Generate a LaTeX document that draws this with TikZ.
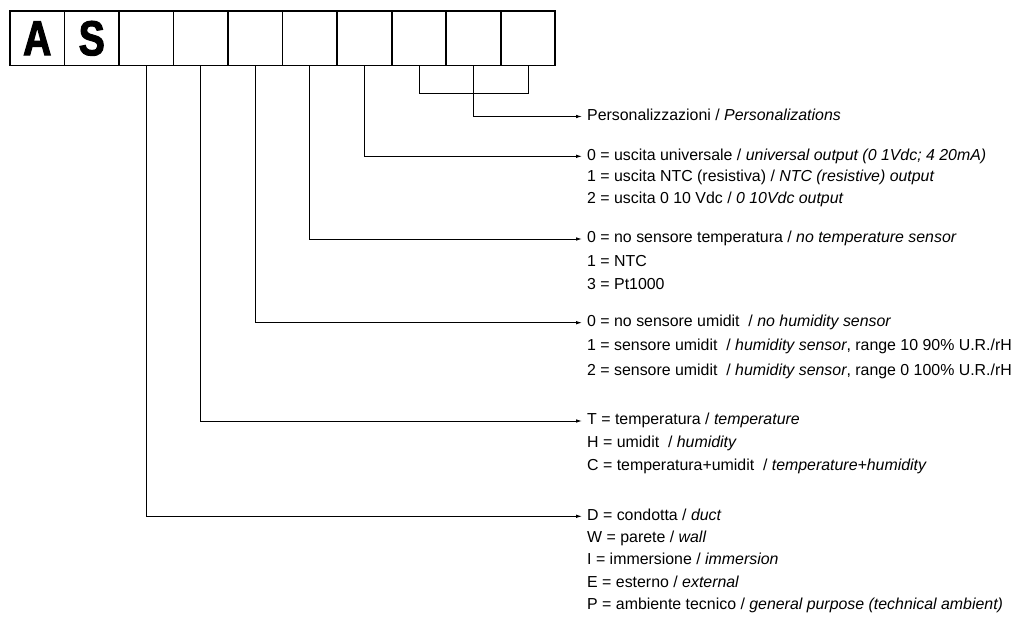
\documentclass[tikz,border=0pt]{standalone}
\usepackage{fontspec}
\setmainfont{Liberation Sans}
\newfontfamily\codefont[FakeStretch=0.8, FakeBold=2.2]{Liberation Sans Bold}
\usepackage{tikz}
\usetikzlibrary{arrows.meta}
\tikzset{>={Latex[length=6pt,width=3.6pt]}}

\begin{document}
\begin{tikzpicture}[x=1pt, y=-1pt,
  cell/.style={draw, line width=1.6pt, minimum size=54.53pt, inner sep=0pt,
    font=\codefont\fontsize{49}{49}\selectfont},
  link/.style={line width=0.9pt},
  item/.style={anchor=west, inner xsep=5pt, inner ysep=0pt,
    text height=11.5pt, text depth=4pt, font=\fontsize{15.9}{19}\selectfont}]

\useasboundingbox (0,0) rectangle (1013,617);

% ---------- Code boxes ----------
\foreach \c [count=\i] in {A,S,{},{},{},{},{},{},{},{}}{
  \node[cell] (b\i) at (10+54.53*\i-27.27,38.35) {\c};
}

% ---------- Labels ----------
\node[item] (pers) at (582,116.5) {Personalizzazioni / \textit{Personalizations}};

\foreach \t [count=\k from 0] in {
  {0 = uscita universale / \textit{universal output (0 1Vdc; 4 20mA)}},
  {1 = uscita NTC (resistiva) / \textit{NTC (resistive) output}},
  {2 = uscita 0 10 Vdc / \textit{0 10Vdc output}}
}{
  \node[item] (out\k) at (582,156.3+21.85*\k) {\t};
}

\foreach \t [count=\k from 0] in {
  {0 = no sensore temperatura / \textit{no temperature sensor}},
  {1 = NTC},
  {3 = Pt1000}
}{
  \node[item] (tmp\k) at (582,239+23.5*\k) {\t};
}

\foreach \t [count=\k from 0] in {
  {0 = no sensore umidit~ / \textit{no humidity sensor}},
  {1 = sensore umidit~ / \textit{humidity sensor}, range 10 90\% U.R./rH},
  {2 = sensore umidit~ / \textit{humidity sensor}, range 0 100\% U.R./rH}
}{
  \node[item] (hum\k) at (582,322.7+24.5*\k) {\t};
}

\foreach \t [count=\k from 0] in {
  {T = temperatura / \textit{temperature}},
  {H = umidit~ / \textit{humidity}},
  {C = temperatura+umidit~ / \textit{temperature+humidity}}
}{
  \node[item] (typ\k) at (582,421+22.85*\k) {\t};
}

\foreach \t [count=\k from 0] in {
  {D = condotta / \textit{duct}},
  {W = parete / \textit{wall}},
  {I = immersione / \textit{immersion}},
  {E = esterno / \textit{external}},
  {P = ambiente tecnico / \textit{general purpose (technical ambient)}}
}{
  \node[item] (mnt\k) at (582,516.3+22.35*\k) {\t};
}

% ---------- Connectors ----------
\draw[link] (b8.south) -- (b8.south |- 0,93.3) -| (b10.south);
\draw[link,->] (b9.south) |- (pers.west);
\draw[link,->] (b7.south) |- (out0.west);
\draw[link,->] (b6.south) |- (tmp0.west);
\draw[link,->] (b5.south) |- (hum0.west);
\draw[link,->] (b4.south) |- (typ0.west);
\draw[link,->] (b3.south) |- (mnt0.west);

\end{tikzpicture}
\end{document}
